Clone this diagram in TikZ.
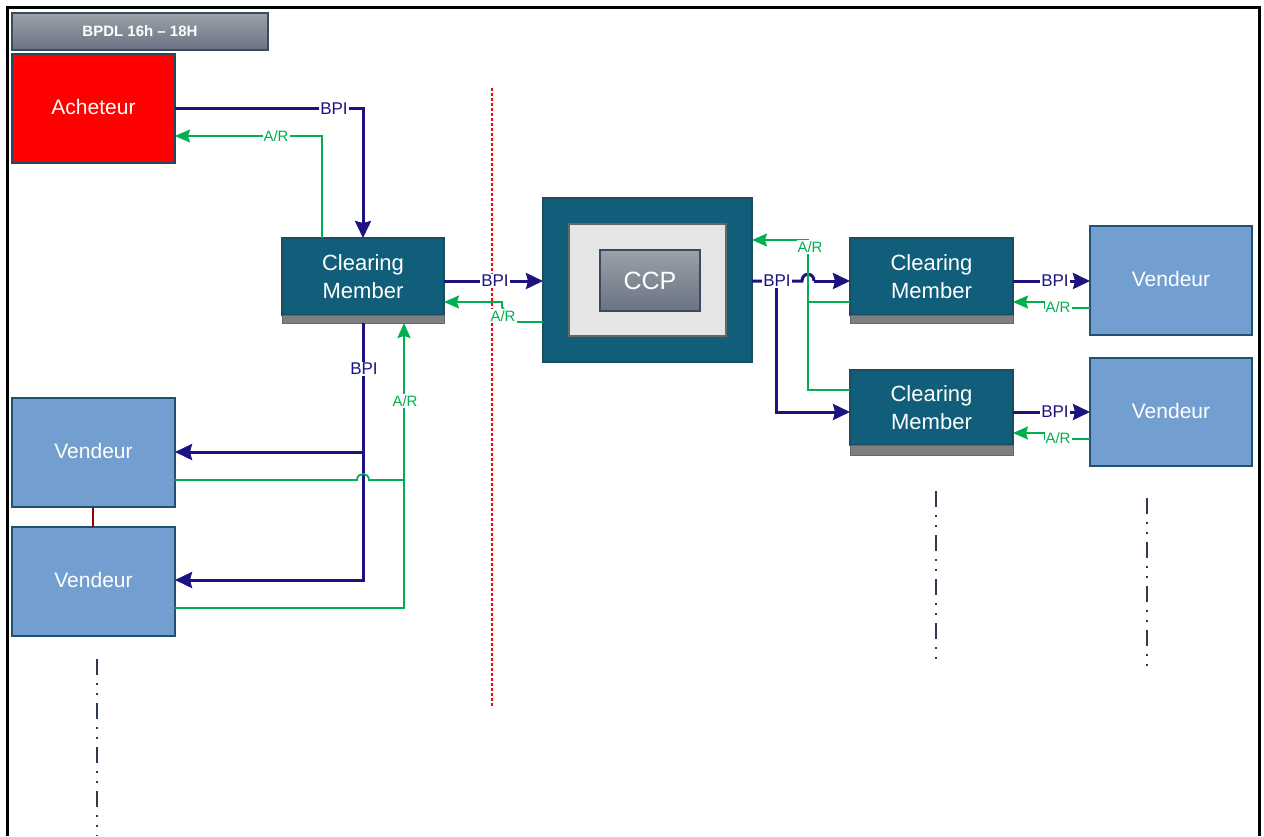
\documentclass[tikz,border=0pt]{standalone}
\usepackage{fontspec}
\setmainfont{Liberation Sans}
\usetikzlibrary{arrows.meta}
\definecolor{teal1}{HTML}{115E7A}
\definecolor{teal2}{HTML}{1A4D62}
\definecolor{vfill}{HTML}{729FCF}
\definecolor{vborder}{HTML}{1F5270}
\definecolor{bpiblue}{HTML}{1D1380}
\definecolor{argreen}{HTML}{00B050}
\definecolor{slate}{HTML}{2E3B4E}
\definecolor{barg}{HTML}{7F7F7F}
\definecolor{gtop}{HTML}{9AA1AA}
\definecolor{gbot}{HTML}{6A7382}
\definecolor{gborder}{HTML}{3B4A5E}
\begin{document}
\begin{tikzpicture}[x=1pt,y=-1pt,
  box/.style={anchor=north west, inner sep=0pt, outer sep=0pt, line width=1.8pt, text=white, align=center},
  cmbox/.style={box, fill=teal1, draw=teal2, minimum width=162, minimum height=77, font=\fontsize{22}{28}\selectfont},
  barbox/.style={anchor=north west, inner sep=0pt, outer sep=0pt, fill=barg, draw=black!60, line width=1pt, minimum width=162, minimum height=8},
  vbox/.style={box, fill=vfill, draw=vborder, minimum width=162, minimum height=109, font=\fontsize{21}{24}\selectfont},
  bpi/.style={draw=bpiblue, line width=3pt},
  ar/.style={draw=argreen, line width=1.8pt},
  bpiarrow/.style={-{Stealth[length=17pt,width=16pt,inset=2pt]}},
  ararrow/.style={-{Stealth[length=15pt,width=13pt,inset=2pt]}},
  lblb/.style={fill=white, inner sep=1pt, text=bpiblue, font=\fontsize{17}{17}\selectfont},
  lbla/.style={fill=white, inner sep=1pt, text=argreen, font=\fontsize{15}{15}\selectfont},
  dashdot/.style={draw=slate, line width=2.2pt, dash pattern=on 16pt off 8pt on 2pt off 8pt on 2pt off 8pt}
]
\useasboundingbox (0,0) rectangle (1264,836);
\fill[white] (0,0) rectangle (1264,836);
% frame
\draw[line width=3pt] (7.5,836) -- (7.5,7.5) -- (1259,7.5) -- (1259,836);

% title
\node[box, draw=gborder, line width=1.5pt, top color=gtop, bottom color=gbot, minimum width=256, minimum height=37, font=\fontsize{15}{15}\bfseries\selectfont] (title) at (12,13) {BPDL 16h -- 18H};

% Acheteur
\node[box, fill=red, draw=teal2, minimum width=163, minimum height=109, font=\fontsize{21}{24}\selectfont] (ach) at (12,54) {\raisebox{3pt}{Acheteur}};

% Clearing members
\node[cmbox] (cm1) at (282,238) {Clearing\\Member};
\node[barbox] (cm1b) at (282,315) {};
\node[cmbox, minimum width=163] (cm2) at (850,238) {Clearing\\Member};
\node[barbox, minimum width=163] (cm2b) at (850,315) {};
\node[cmbox, minimum width=163, minimum height=75] (cm3) at (850,370) {Clearing\\Member};
\node[barbox, minimum width=163, minimum height=10] (cm3b) at (850,445) {};

% CCP
\node[box, fill=teal1, draw=teal2, minimum width=209, minimum height=164] (ccp) at (543,198) {};
\node[inner sep=0pt, outer sep=0pt, fill=black!10, draw=black!60, line width=2pt, minimum width=157, minimum height=112] (ccpm) at (ccp.center) {};
\node[inner sep=0pt, outer sep=0pt, top color=gtop, bottom color=gbot, draw=gborder, line width=2pt, minimum width=100, minimum height=61, text=white, font=\fontsize{25}{25}\selectfont] (ccpi) at (650,280.5) {CCP};

% Vendeurs
\node[vbox] (vr1) at (1090,226) {\raisebox{3pt}{Vendeur}};
\node[vbox, minimum height=108] (vr2) at (1090,358) {\raisebox{3pt}{Vendeur}};
\node[vbox, minimum width=163] (vl1) at (12,398) {\raisebox{3pt}{Vendeur}};
\node[vbox, minimum width=163] (vl2) at (12,527) {\raisebox{3pt}{Vendeur}};
\draw[draw=red!60!black, line width=1.5pt] (vl1.south -| 93,0) -- (vl2.north -| 93,0);

% red dotted separator
\draw[red, line width=1.5pt, dash pattern=on 3pt off 2pt] (492,88) -- (492,708);

% dash-dot continuation lines
\draw[dashdot] (97,659) -- (97,836);
\draw[dashdot] (936,491) -- (936,662);
\draw[dashdot] (1147,498) -- (1147,669);

% ---- Acheteur <-> CM1
\draw[bpi, bpiarrow] (ach.east) -| (cm1.north);
\node[lblb] (l1) at (334,108.5) {BPI};
\draw[ar, ararrow] ([xshift=-41pt]cm1.north) |- (ach.east |- 0,136);
\node[lbla] (l2) at (276,136) {A/R};

% ---- CM1 <-> CCP
\draw[bpi, bpiarrow] (cm1.east |- 0,281) -- (ccp.west |- 0,281);
\node[lblb] (l3) at (495,281) {BPI};
\draw[ar, ararrow] (ccp.west |- 0,322) -- (515,322) -- (502,307) -- (502,302) -- (cm1.east |- 0,302);
\node[lbla] (l4) at (503,316) {A/R};

% ---- CCP -> CM2 / CM3 (BPI)
\draw[bpi] (ccp.east |- 0,281) -- (802,281) .. controls (802,272) and (814,272) .. (814,281);
\draw[bpi, bpiarrow] (814,281) -- (cm2.west |- 0,281);
\draw[bpi, bpiarrow] (776,281) |- (cm3.west |- 0,412);
\node[lblb] (l5) at (777,281) {BPI};

% ---- CM2 / CM3 -> CCP (A/R)
\draw[ar] (cm2.west |- 0,302) -- (808,302);
\draw[ar, ararrow] (cm3.west |- 0,390) -| (808,240) -- (ccp.east |- 0,240);
\node[lbla] (l6) at (810,247) {A/R};

% ---- CM2 <-> Vendeur R1
\draw[bpi, bpiarrow] (cm2.east |- 0,281) -- (vr1.west |- 0,281);
\node[lblb] (l7) at (1055,281) {BPI};
\draw[ar, ararrow] (vr1.west |- 0,308) -- (1045,308) |- (cm2.east |- 0,302);
\node[lbla] (l8) at (1058,307) {A/R};

% ---- CM3 <-> Vendeur R2
\draw[bpi, bpiarrow] (cm3.east |- 0,412) -- (vr2.west |- 0,412);
\node[lblb] (l9) at (1055,412) {BPI};
\draw[ar, ararrow] (vr2.west |- 0,439) -- (1045,439) |- (cm3.east |- 0,433);
\node[lbla] (l10) at (1058,438) {A/R};

% ---- CM1 -> Vendeurs left (BPI)
\draw[bpi, bpiarrow] (cm1b.south) |- (vl2.east |- 0,580);
\draw[bpi, bpiarrow] (363,452) -- (vl1.east |- 0,452);
\node[lblb] (l11) at (364,369) {BPI};

% ---- Vendeurs left -> CM1 (A/R)
\draw[ar, ararrow] (vl2.east |- 0,608) -| ([xshift=41pt]cm1b.south);
\draw[ar] (vl1.east |- 0,480) -- (357,480) .. controls (357,472) and (369,472) .. (369,480) -- (404,480);
\node[lbla] (l12) at (405,401) {A/R};
\end{tikzpicture}
\end{document}
